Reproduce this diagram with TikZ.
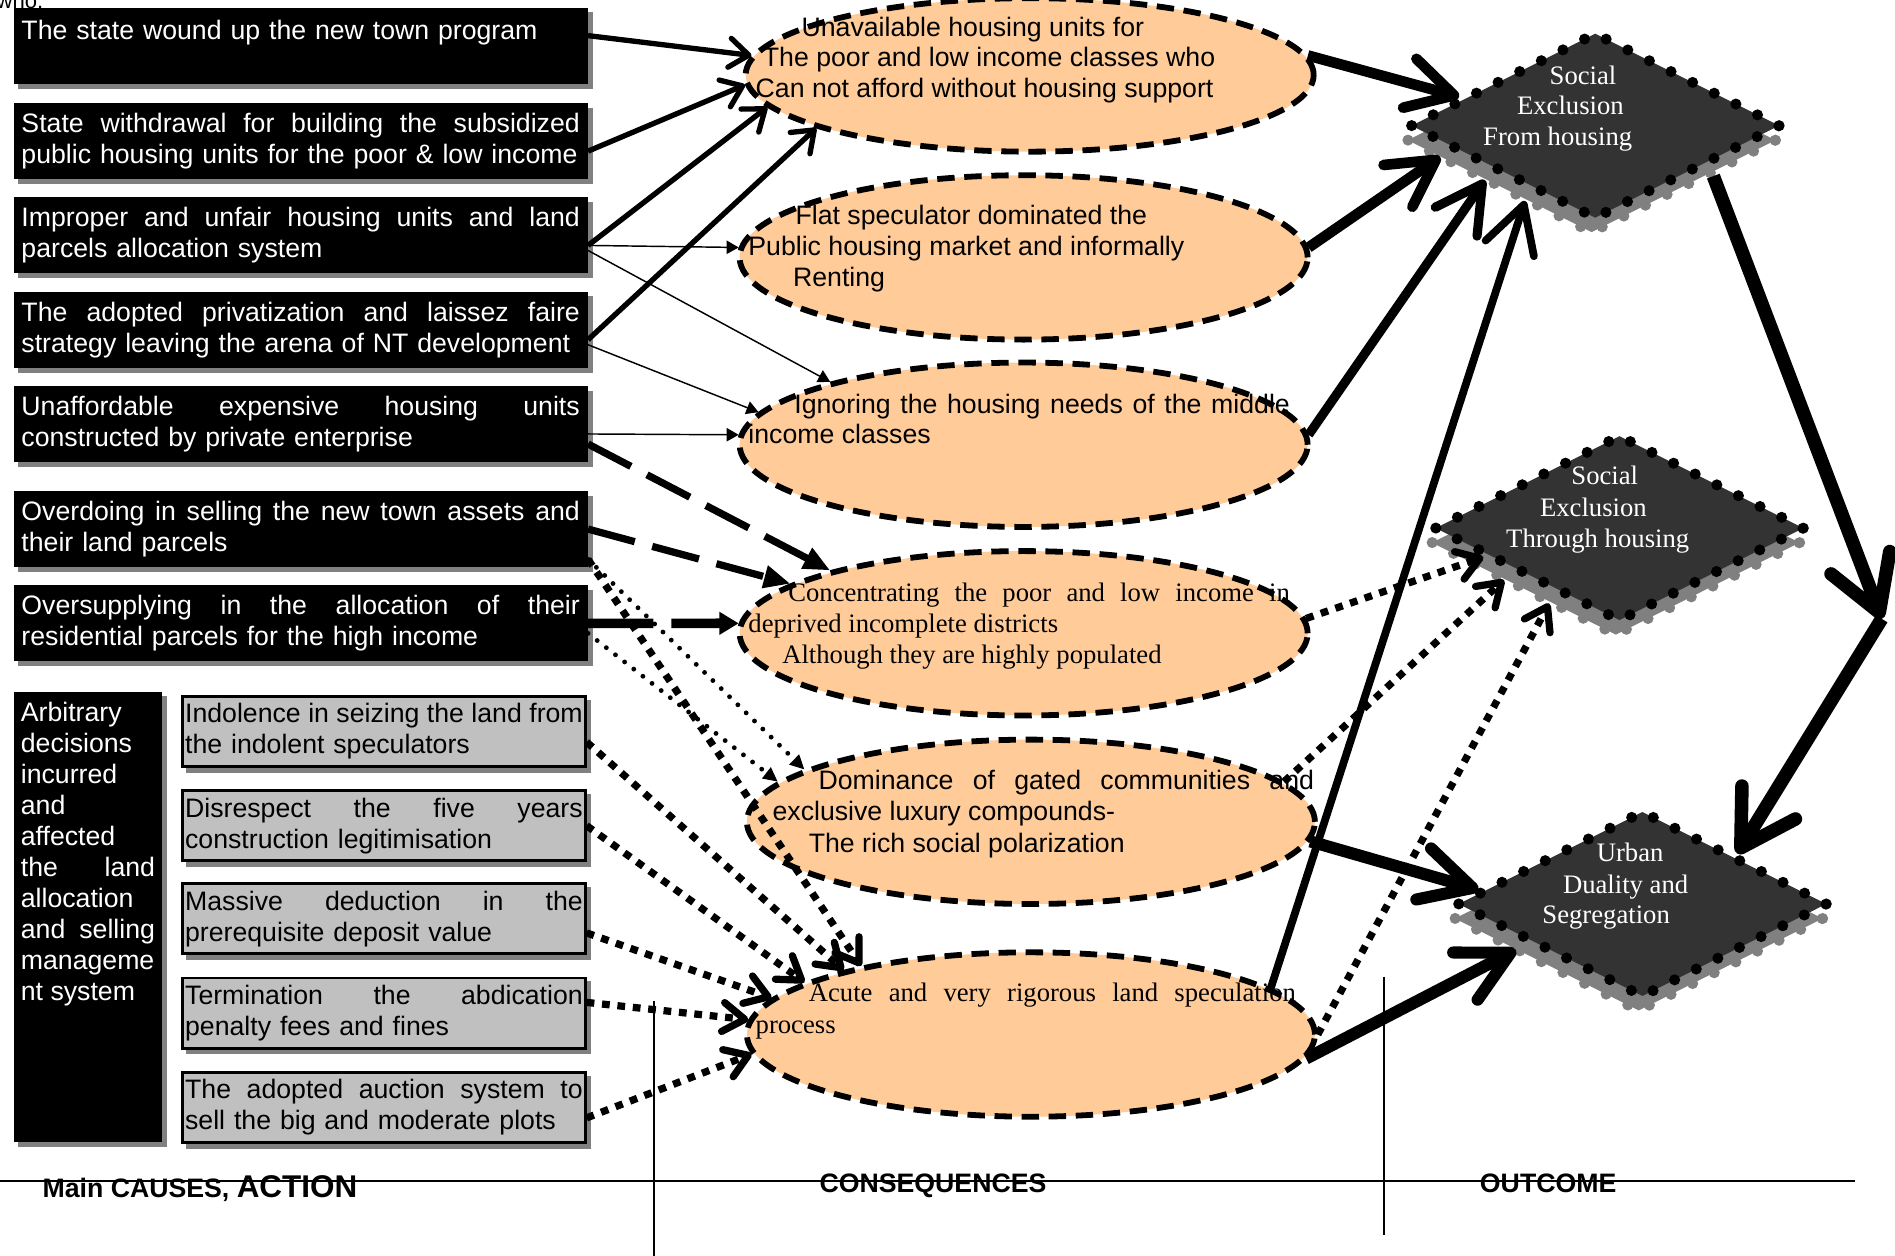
\documentclass[tikz,border=0pt]{standalone}
\usepackage{fontspec}
\setmainfont{Liberation Sans}
\newfontfamily\timesface{Liberation Serif}
\usepackage{tikz}
\usetikzlibrary{arrows.meta,shapes.geometric,shadows}
\definecolor{Peach}{HTML}{FFCC99}
\definecolor{Slate}{HTML}{333333}
\definecolor{Shade}{HTML}{808080}
\definecolor{Silver}{HTML}{C0C0C0}
\newcommand\bodysize{\fontsize{15.7pt}{18.2pt}\selectfont}
\newcommand\fillline[2]{\makebox[#1][s]{\spaceskip=0pt\xspaceskip=0pt\relax#2}}
\tikzset{
  cause/.style={rectangle,fill=black,text=white,anchor=north west,minimum width=118.75mm,minimum height=15.75mm,text width=115.5mm,inner xsep=1.625mm,inner ysep=0pt,align=left,general shadow={fill=Shade,shadow xshift=1mm,shadow yshift=-1mm}},
  act/.style={rectangle,fill=black,text=white,anchor=north west,inner xsep=1.5mm,inner ysep=2.25mm,general shadow={fill=Shade,shadow xshift=1mm,shadow yshift=-1mm}},
  rulebox/.style={rectangle,fill=Silver,draw=black,line width=0.6mm,anchor=north west,minimum width=83.25mm,minimum height=14.5mm,text width=82.25mm,inner xsep=0.5mm,inner ysep=0pt,align=left,general shadow={fill=Shade,draw=Shade,shadow xshift=1mm,shadow yshift=-1mm}},
  effect/.style={ellipse,fill=Peach,draw=black,line width=1.2mm,dash pattern=on 3.6mm off 2mm,minimum width=117.5mm,minimum height=34mm,inner sep=0pt},
  outcome/.style={diamond,fill=Slate,draw=black,line width=2.3mm,dash pattern=on 0mm off 5mm,line cap=round,minimum width=77mm,minimum height=39mm,inner sep=0pt,general shadow={fill=Shade,draw=Shade,line width=2.3mm,dash pattern=on 0mm off 5mm,line cap=round,shadow xshift=-0.75mm,shadow yshift=-3mm}},
  etext/.style={anchor=base west,inner sep=0pt},
  otext/.style={anchor=base west,inner sep=0pt,text=white,font=\timesface\bodysize},
  push/.style={line width=1.1mm,-{Straight Barb[length=4mm,width=6mm,round]}},
  thinlink/.style={line width=0.3mm,-{Triangle[length=2.5mm,width=2.75mm]}},
  longdash/.style={line width=1.5mm,dash pattern=on 10mm off 3.75mm,-{Triangle[length=5.5mm,width=4.5mm]}},
  squaredot/.style={line width=1.5mm,dash pattern=on 1.6mm off 1.6mm,-{Straight Barb[length=4.5mm,width=6mm,round]}},
  rounddot/.style={line width=1mm,dash pattern=on 0mm off 2.4mm,line cap=round,-{Triangle[length=3mm,width=2.75mm]}},
  heavy/.style={line width=2.2mm,-{Straight Barb[length=9.5mm,width=10.5mm,round]}},
  heading/.style={inner sep=0pt,font=\bfseries\bodysize}
}
\begin{document}
\begin{tikzpicture}[x=0.25mm,y=-0.25mm,font=\bodysize]
\useasboundingbox (0,0) rectangle (1568,1039);
\node[anchor=base west,inner sep=0pt,font=\fontsize{13pt}{15pt}\selectfont] (who) at (-3,7) {who:};
\node[cause] (c1) at (11,6) {The state wound up the new town program\\\mbox{}};
\node[cause] (c2) at (11,85) {\fillline{115.5mm}{State withdrawal for building the subsidized}\\public housing units for the poor \& low income};
\node[cause] (c3) at (11,163) {\fillline{115.5mm}{Improper and unfair housing units and land}\\parcels allocation system};
\node[cause] (c4) at (11,241) {\fillline{115.5mm}{The adopted privatization and laissez faire}\\strategy leaving the arena of NT development};
\node[cause] (c5) at (11,319) {\fillline{115.5mm}{Unaffordable expensive housing units}\\constructed by private enterprise};
\node[cause] (c6) at (11,406) {\fillline{115.5mm}{Overdoing in selling the new town assets and}\\their land parcels};
\node[cause] (c7) at (11,484) {\fillline{115.5mm}{Oversupplying in the allocation of their}\\residential parcels for the high income};
\node[act] (act) at (11,572) {\parbox[t][88.75mm][t]{27.75mm}{Arbitrary\\decisions\\incurred\\and\\affected\\the\hfill land\\allocation\\and\hfill selling\\manageme\\nt system}};
\node[rulebox] (r1) at (150,575) {\fillline{82.25mm}{Indolence in seizing the land from}\\the indolent speculators};
\node[rulebox] (r2) at (150,653) {\fillline{82.25mm}{Disrespect the five years}\\construction legitimisation};
\node[rulebox] (r3) at (150,730) {\fillline{82.25mm}{Massive deduction in the}\\prerequisite deposit value};
\node[rulebox] (r4) at (150,808) {\fillline{82.25mm}{Termination the abdication}\\penalty fees and fines};
\node[rulebox] (r5) at (150,886) {\fillline{82.25mm}{The adopted auction system to}\\sell the big and moderate plots};
% consequences
\node[effect,minimum height=31.75mm] (e1) at (852,62) {};
\node[effect] (e2) at (847,213) {};
\node[effect] (e3) at (847,368) {};
\node[effect] (e4) at (847,524) {};
\node[effect] (e5) at (853,680) {};
\node[effect] (e6) at (853,856) {};
\node[etext] (e1a) at (663,30) {Unavailable housing units for};
\node[etext] (e1b) at (631,55) {The poor and low income classes who};
\node[etext] (e1c) at (625,81) {Can not afford without housing support};
\node[etext] (e2a) at (658,186) {Flat speculator dominated the};
\node[etext] (e2b) at (619,211) {Public housing market and informally};
\node[etext] (e2c) at (656,237) {Renting};
\node[etext] (e3a) at (657,342) {\fillline{102.5mm}{Ignoring the housing needs of the middle}};
\node[etext] (e3b) at (619,367) {income classes};
\node[etext,font=\timesface\bodysize] (e4a) at (652,498) {\fillline{103.75mm}{Concentrating the poor and low income in}};
\node[etext,font=\timesface\bodysize] (e4b) at (619,523) {deprived incomplete districts};
\node[etext,font=\timesface\bodysize] (e4c) at (647,549) {Although they are highly populated};
\node[etext] (e5a) at (677,653) {\fillline{102.5mm}{Dominance of gated communities and}};
\node[etext] (e5b) at (639,679) {exclusive luxury compounds-};
\node[etext] (e5c) at (669,705) {The rich social polarization};
\node[etext,font=\timesface\bodysize] (e6a) at (669,829) {\fillline{100.75mm}{Acute and very rigorous land speculation}};
\node[etext,font=\timesface\bodysize] (e6b) at (625,855) {process};
% outcomes
\node[outcome] (d1) at (1320,104) {};
\node[outcome] (d2) at (1340,437) {};
\node[outcome] (d3) at (1359,748) {};
\node[otext] (d1a) at (1282,70) {Social};
\node[otext] (d1b) at (1255,95) {Exclusion};
\node[otext] (d1c) at (1227,120) {From housing};
\node[otext] (d2a) at (1300,401) {Social};
\node[otext] (d2b) at (1274,427) {Exclusion};
\node[otext] (d2c) at (1246,453) {Through housing};
\node[otext] (d3a) at (1321,713) {Urban};
\node[otext] (d3b) at (1293,739) {Duality and};
\node[otext] (d3c) at (1276,764) {Segregation};
\coordinate (bend) at (1557,512);
% causes to consequences
\draw[push] (c1.2.3) -- (e1.176);
\draw[push] (c2.358.2) -- (e1.182);
\draw[push] (c3.358.7) -- (e1.187);
\draw[push] (c4.358.2) -- (e1.194);
\draw[thinlink] (c3.358) -- (e2.178);
\draw[thinlink] (c3.357) -- (e3.162);
\draw[thinlink] (c4.357.5) -- (e3.173);
\draw[thinlink] (c5.358) -- (e3.178);
\draw[longdash] (c5.356.75) -- (e4.162);
\draw[longdash] (c6.0) -- (e4.168);
\draw[line width=2mm,dash pattern=on 13.5mm off 3.75mm on 60mm off 1mm,-{Triangle[length=4mm,width=4.5mm]}] (c7.0) -- (e4.178);
\draw[rounddot] (c6.354.35) -- (e5.167);
\draw[rounddot] (c7.358.7) -- (e5.171);
\draw[squaredot] (c6.354.6) -- (e6.158);
\draw[squaredot] (r1.357.25) -- (e6.161);
\draw[squaredot] (r2.0.7) -- (e6.167);
\draw[squaredot] (r3.356.9) -- (e6.172);
\draw[squaredot] (r4.3.1) -- (e6.177);
\draw[squaredot] (r5.357.9) -- (e6.184);
% consequences to outcomes
\draw[heavy] (e1.4) -- (d1.168);
\draw[heavy] (e2.2) -- ([yshift=-2.5mm]d1.187);
\draw[heavy,line width=1.9mm] (e3.2.5) -- ([yshift=-2.5mm]d1.201);
\draw[heavy,line width=1.6mm] (e6.11) -- ([yshift=-2.5mm]d1.222);
\draw[squaredot] (e4.3) -- (d2.192);
\draw[squaredot] (e5.9) -- ([yshift=-2.5mm]d2.199);
\draw[squaredot] (e6.0) -- ([yshift=-2.5mm]d2.222);
\draw[heavy,line width=2.5mm,-{Straight Barb[length=10.5mm,width=11mm,round]}] (e5.356) -- (d3.175);
\draw[heavy,line width=2.5mm,-{Straight Barb[length=10.5mm,width=11mm,round]}] (e6.355) -- ([yshift=-2.5mm]d3.195);
\draw[heavy,line width=2.8mm,-{Straight Barb[length=11mm,width=13mm,round]}] ([yshift=-2.5mm]d1.342) -- (bend);
\draw[heavy,line width=2.8mm,-{Straight Barb[length=11mm,width=13mm,round]}] (bend) -- (d3.28);
% columns
\draw[line width=0.4mm] (0,977) -- (1535,977);
\draw[line width=0.35mm] (541,828) -- (541,1039);
\draw[line width=0.35mm] (1145,808) -- (1145,1022);
\node[heading,anchor=base west] (lcause) at (35,991) {Main CAUSES, {\fontsize{18.5pt}{20pt}\selectfont ACTION}};
\node[heading,anchor=base] (lcons) at (772,987) {CONSEQUENCES};
\node[heading,anchor=base] (lout) at (1281,987) {OUTCOME};
\end{tikzpicture}
\end{document}
